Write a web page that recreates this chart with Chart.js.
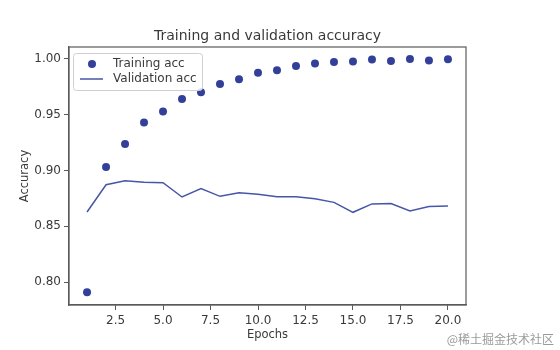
<!DOCTYPE html>
<html>
<head>
<meta charset="utf-8">
<script src="https://cdn.jsdelivr.net/npm/chart.js@4.4.1/dist/chart.umd.min.js"></script>
<style>
html,body{margin:0;padding:0;background:#ffffff;}
#wrap{position:relative;width:560px;height:350px;}
#mark{position:absolute;right:6px;top:330px;font-family:"Noto Sans CJK SC",sans-serif;font-size:12px;color:#9a9a9a;}
</style>
</head>
<body>
<div id="wrap"><canvas id="c" width="560" height="350"></canvas><div id="mark">@稀土掘金技术社区</div></div>
<script>
const epochs = [1,2,3,4,5,6,7,8,9,10,11,12,13,14,15,16,17,18,19,20];
const trainingAcc = [0.791,0.903,0.9237,0.943,0.9527,0.964,0.970,0.9774,0.9816,0.9875,0.9896,0.9935,0.9958,0.9970,0.9976,0.9994,0.998,0.9997,0.9985,0.9995];
const validationAcc = [0.8628,0.8872,0.8908,0.8893,0.889,0.8762,0.8837,0.8768,0.880,0.8786,0.8765,0.8765,0.8747,0.8714,0.8625,0.870,0.8703,0.8637,0.8676,0.8681];
const xTicks = [2.5,5.0,7.5,10.0,12.5,15.0,17.5,20.0];
const yTicks = [0.80,0.85,0.90,0.95,1.00];
const seriesLabels = ['Training acc','Validation acc'];
const titleText = 'Training and validation accuracy';
const xTitle = 'Epochs';
const yTitle = 'Accuracy';

const FONT = '"DejaVu Sans", sans-serif';
const TXT = '#3a3a3a';
const AX = '#5a5a5a';
const DOT = '#33409a';
const LINE = '#4656a8';

const framePlugin = {
  id:'frame',
  afterDatasetsDraw(chart){
    const {ctx, chartArea:a} = chart;
    ctx.save();
    ctx.strokeStyle = AX; ctx.lineWidth = 1.2;
    ctx.strokeRect(a.left, a.top, a.right-a.left, a.bottom-a.top);
    ctx.restore();
  },
  afterDraw(chart){
    const {ctx, chartArea:a} = chart;
    const ds = chart.data.datasets;
    ctx.save();
    ctx.font = '14px ' + FONT;
    ctx.fillStyle = TXT; ctx.textAlign = 'center'; ctx.textBaseline = 'middle';
    ctx.fillText(titleText, (a.left + a.right) / 2, 36);
    const x0 = 73, y0 = 53, w = 129, h = 37;
    ctx.fillStyle = 'rgba(255,255,255,0.85)';
    ctx.strokeStyle = '#cfcfcf'; ctx.lineWidth = 1;
    ctx.beginPath();
    if (ctx.roundRect) ctx.roundRect(x0+0.5, y0+0.5, w, h, 3); else ctx.rect(x0+0.5,y0+0.5,w,h);
    ctx.fill(); ctx.stroke();
    ctx.font = '12px ' + FONT;
    ctx.textBaseline = 'middle'; ctx.textAlign = 'left';
    ctx.fillStyle = ds[0].pointBackgroundColor;
    ctx.beginPath(); ctx.arc(92, 64, 4, 0, Math.PI*2); ctx.fill();
    ctx.fillStyle = TXT;
    ctx.fillText(ds[0].label, 113, 64);
    ctx.strokeStyle = ds[1].borderColor; ctx.lineWidth = 1.5;
    ctx.beginPath(); ctx.moveTo(80, 79); ctx.lineTo(103, 79); ctx.stroke();
    ctx.fillText(ds[1].label, 113, 79);
    ctx.restore();
  }
};

new Chart(document.getElementById('c'), {
  type:'line',
  data:{
    datasets:[
      {label:seriesLabels[0], data:epochs.map((e,i)=>({x:e,y:trainingAcc[i]})), showLine:false,
       pointRadius:4, pointBackgroundColor:DOT, pointBorderColor:DOT, pointBorderWidth:0, borderColor:DOT},
      {label:seriesLabels[1], data:epochs.map((e,i)=>({x:e,y:validationAcc[i]})), showLine:true,
       pointRadius:0, borderColor:LINE, borderWidth:1.5, tension:0, fill:false}
    ]
  },
  options:{
    responsive:false, animation:false,
    layout:{padding:{top:47,right:94,left:0,bottom:0}},
    plugins:{ legend:{display:false}, tooltip:{enabled:false}, title:{display:false} },
    scales:{
      x:{type:'linear', min:0.05, max:20.95,
        afterBuildTicks(s){ s.ticks = xTicks.map(v=>({value:v})); },
        afterFit(s){ s.height = 45; },
        ticks:{callback:(v)=>Number(v).toFixed(1), color:TXT, font:{family:FONT,size:12}, padding:3.5, maxRotation:0, autoSkip:false},
        grid:{drawOnChartArea:false, drawTicks:true, tickLength:5, tickColor:AX},
        border:{display:true, color:AX, width:1.2},
        title:{display:true, text:xTitle, color:TXT, font:{family:FONT,size:11.5}, padding:{top:8,bottom:8}}
      },
      y:{min:0.7795, max:1.0105,
        afterBuildTicks(s){ s.ticks = yTicks.map(v=>({value:v})); },
        afterFit(s){ s.width = 69; },
        ticks:{callback:(v)=>Number(v).toFixed(2), color:TXT, font:{family:FONT,size:12}, padding:3, autoSkip:false},
        grid:{drawOnChartArea:false, drawTicks:true, tickLength:5, tickColor:AX},
        border:{display:true, color:AX, width:1.2},
        title:{display:true, text:yTitle, color:TXT, font:{family:FONT,size:11.5}, padding:{top:18,bottom:18}}
      }
    }
  },
  plugins:[framePlugin]
});
</script>
</body>
</html>
